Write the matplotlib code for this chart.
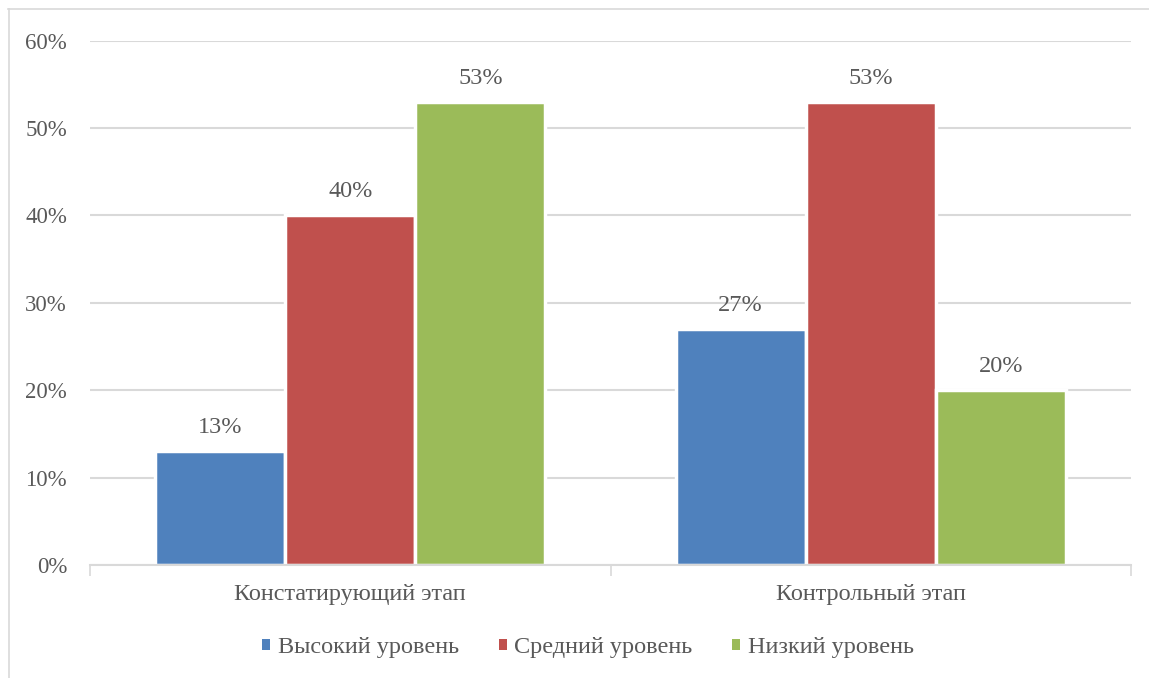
import matplotlib
matplotlib.use('Agg')
import matplotlib.pyplot as plt
from matplotlib.lines import Line2D
import numpy as np

plt.rcParams['font.family'] = ['Liberation Serif', 'DejaVu Serif']

categories = ['Констатирующий этап', 'Контрольный этап']
series = ['Высокий уровень', 'Средний уровень', 'Низкий уровень']
high = [13, 27]
medium = [40, 53]
low = [53, 20]
colors = ['#4f81bd', '#c0504d', '#9bbb59']
yticks = [0, 10, 20, 30, 40, 50, 60]

text_color = '#595959'
grid_color = '#d9d9d9'
fs = 17.5

fig = plt.figure(figsize=(11.49, 6.78), dpi=100)
ax = fig.add_axes([90 / 1149, 1 - 565 / 678, (1131 - 90) / 1149, (565 - 40.7) / 678])

x = np.arange(len(categories))
step = 0.25
width = 0.25
for i, (vals, col, name) in enumerate(zip([high, medium, low], colors, series)):
    pos = x + (i - 1) * step
    bars = ax.bar(pos, vals, width, color=col, label=name, zorder=3,
                  edgecolor='white', linewidth=2.5)
    for b, v in zip(bars, vals):
        ax.text(b.get_x() + b.get_width() / 2, v + 1.5, f'{v}%', ha='center',
                va='bottom', fontsize=fs, color=text_color)

ax.set_xlim(-0.5, 1.5)
ax.set_ylim(0, 60)
ax.set_yticks(yticks)
ax.set_yticklabels([f'{t}%' for t in yticks])
ax.yaxis.grid(True, color=grid_color, linewidth=1.5, zorder=0)
ax.set_xticks(x)
ax.set_xticklabels(categories)
ax.set_xticks([-0.5, 0.5, 1.5], minor=True)
ax.tick_params(axis='x', which='major', length=0, pad=14, labelsize=fs, labelcolor=text_color)
ax.tick_params(axis='x', which='minor', length=8, width=1.2, color=grid_color)
ax.tick_params(axis='y', length=0, pad=16.5, labelsize=16.5, labelcolor=text_color)
for s in ['top', 'right', 'left']:
    ax.spines[s].set_visible(False)
ax.spines['bottom'].set_color(grid_color)
ax.spines['bottom'].set_linewidth(1.5)
ax.spines['bottom'].set_zorder(4)

leg = fig.legend(loc='center', bbox_to_anchor=(588 / 1149, 1 - 648 / 678), ncol=3,
                 frameon=False, fontsize=fs, handlelength=0.33, handleheight=0.33,
                 handletextpad=0.3, columnspacing=1.65, borderpad=0)
for t in leg.get_texts():
    t.set_color(text_color)
for h in leg.legend_handles:
    h.set_linewidth(0)

# chart border
fig.add_artist(Line2D([8 / 1149, 1], [1 - 8.5 / 678] * 2, transform=fig.transFigure,
                      color=grid_color, linewidth=1.2))
fig.add_artist(Line2D([8.5 / 1149] * 2, [0, 1 - 8.5 / 678], transform=fig.transFigure,
                      color=grid_color, linewidth=1.2))

fig.savefig('out.png', dpi=100)
